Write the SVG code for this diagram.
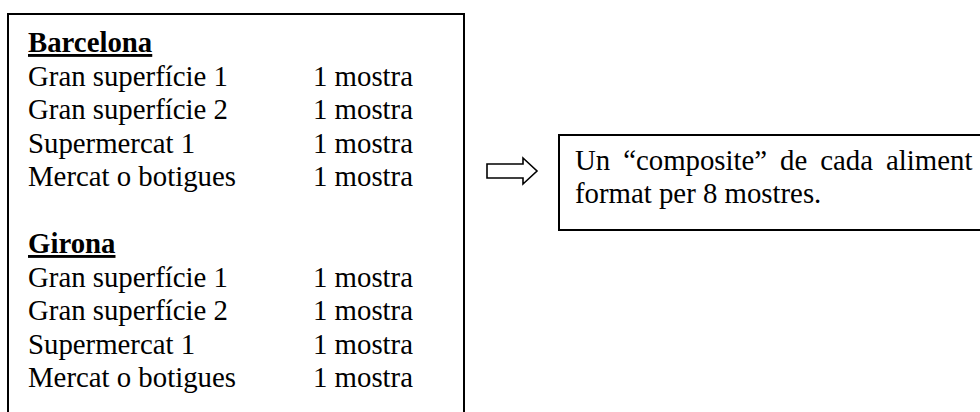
<svg xmlns="http://www.w3.org/2000/svg" width="980" height="412" viewBox="0 0 980 412">
  <style>
    .frame { fill: none; stroke: #000; stroke-width: 2; }
    .t { font-family: "Liberation Serif", "Times New Roman", serif; font-size: 28.8px; fill: #000; }
    .h { font-weight: bold; text-decoration: underline; }
    .arrow { fill: #fff; stroke: #000; stroke-width: 1.6; stroke-linejoin: miter; }
  </style>
  <rect width="980" height="412" fill="#fff"/>

  <!-- Left panel: sampling points per city (box runs off the bottom edge) -->
  <g id="sampling-list">
    <path class="frame" d="M8,420 V14 H464 V420"/>
    <text class="t h" x="28" y="52">Barcelona</text>
    <text class="t" x="28" y="85.5">Gran superfície 1</text>
    <text class="t" x="313" y="85.5">1 mostra</text>
    <text class="t" x="28" y="119">Gran superfície 2</text>
    <text class="t" x="313" y="119">1 mostra</text>
    <text class="t" x="28" y="152.5">Supermercat 1</text>
    <text class="t" x="313" y="152.5">1 mostra</text>
    <text class="t" x="28" y="186">Mercat o botigues</text>
    <text class="t" x="313" y="186">1 mostra</text>

    <text class="t h" x="28" y="253">Girona</text>
    <text class="t" x="28" y="286.5">Gran superfície 1</text>
    <text class="t" x="313" y="286.5">1 mostra</text>
    <text class="t" x="28" y="320">Gran superfície 2</text>
    <text class="t" x="313" y="320">1 mostra</text>
    <text class="t" x="28" y="353.5">Supermercat 1</text>
    <text class="t" x="313" y="353.5">1 mostra</text>
    <text class="t" x="28" y="387">Mercat o botigues</text>
    <text class="t" x="313" y="387">1 mostra</text>
  </g>

  <!-- Block arrow between the panels -->
  <g id="connectors">
    <path class="arrow" d="M487,164 H523 V158 L537,171 L523,184 V178 H487 Z"/>
  </g>

  <!-- Right panel: resulting composite -->
  <g id="composite">
    <rect class="frame" x="559" y="135" width="440" height="95"/>
    <text class="t" x="575" y="170" word-spacing="5.8">Un “composite” de cada aliment</text>
    <text class="t" x="575" y="203">format per 8 mostres.</text>
  </g>
</svg>
